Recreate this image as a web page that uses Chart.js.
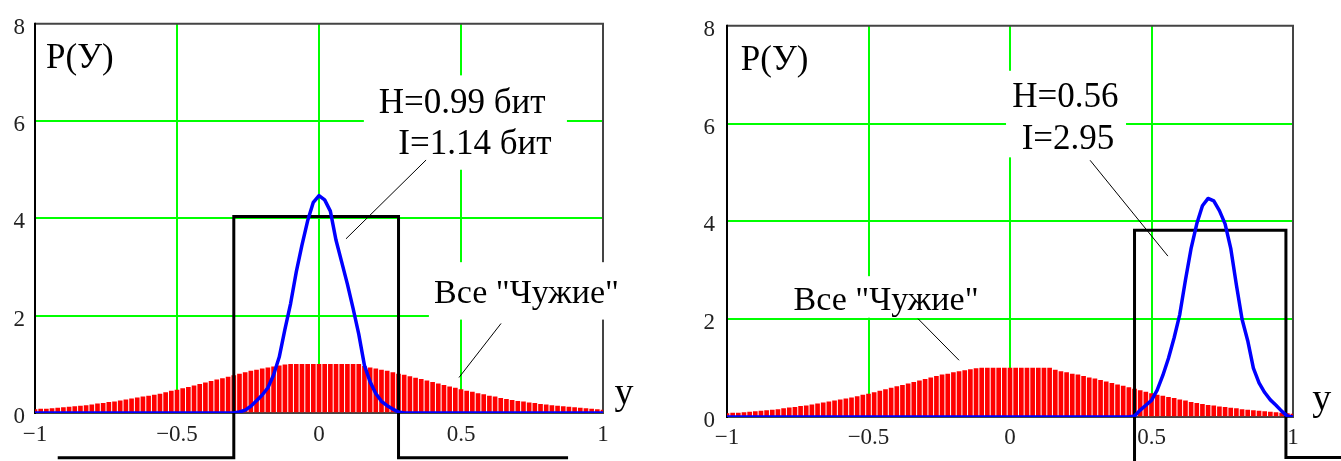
<!DOCTYPE html>
<html>
<head>
<meta charset="utf-8">
<script src="https://cdn.jsdelivr.net/npm/chart.js"></script>
<style>
  html, body { margin: 0; padding: 0; background: #fff; }
  body { width: 1341px; height: 461px; position: relative; overflow: hidden; }
  canvas { position: absolute; top: 0; }
  #left { left: 0; }
  #right { left: 670px; }
</style>
</head>
<body>
<canvas id="left" width="665" height="461"></canvas>
<canvas id="right" width="671" height="461"></canvas>
<script>
// axis ticks
const xTicks = [-1, -0.5, 0, 0.5, 1];
const yTicks = [0, 2, 4, 6, 8];

// "Все Чужие" density, one bar every 0.02 from -1 to 1
const alienStep = 0.02;
const alienY = [
  0.07, 0.08, 0.08, 0.09, 0.10, 0.11, 0.12, 0.13, 0.14, 0.15,
  0.17, 0.19, 0.20, 0.22, 0.23, 0.25, 0.27, 0.29, 0.31, 0.33,
  0.35, 0.37, 0.39, 0.42, 0.45, 0.47, 0.50, 0.53, 0.56, 0.59,
  0.62, 0.65, 0.68, 0.71, 0.74, 0.77, 0.80, 0.83, 0.86, 0.88,
  0.91, 0.93, 0.95, 0.97, 0.99, 1.00,
  1.00, 1.00, 1.00, 1.00, 1.00, 1.00, 1.00, 1.00, 1.00, 1.00, 1.00, 1.00,
  0.96, 0.93, 0.91, 0.88, 0.86, 0.83, 0.80, 0.78, 0.75, 0.72,
  0.69, 0.66, 0.63, 0.60, 0.57, 0.54, 0.51, 0.48, 0.45, 0.43,
  0.40, 0.38, 0.35, 0.33, 0.30, 0.28, 0.26, 0.24, 0.23, 0.21,
  0.20, 0.18, 0.17, 0.15, 0.14, 0.13, 0.12, 0.11, 0.10, 0.09,
  0.08, 0.07, 0.06
];
const alienX = alienY.map((_, i) => Math.round((-1 + i * alienStep) * 100) / 100);

// "свой" density, left panel (centred at 0)
const ownX1 = [-1, -0.30, -0.28, -0.26, -0.24, -0.22, -0.20, -0.18, -0.16, -0.14, -0.12,
  -0.10, -0.08, -0.06, -0.04, -0.02, 0.00, 0.02, 0.04, 0.06, 0.08, 0.10,
  0.12, 0.14, 0.16, 0.18, 0.20, 0.22, 0.24, 0.26, 0.28, 0.30, 1];
const ownY1 = [0, 0, 0.02, 0.06, 0.14, 0.25, 0.37, 0.52, 0.78, 1.15, 1.72,
  2.25, 2.90, 3.45, 3.95, 4.33, 4.47, 4.38, 4.15, 3.55, 3.10, 2.65,
  2.15, 1.62, 0.98, 0.64, 0.40, 0.24, 0.15, 0.08, 0.02, 0, 0];

// "свой" density, right panel (centred near 0.7)
const ownX2 = [-1, 0.42, 0.44, 0.46, 0.48, 0.50, 0.52, 0.54, 0.56, 0.58, 0.60,
  0.62, 0.64, 0.66, 0.68, 0.70, 0.72, 0.74, 0.76, 0.78, 0.80,
  0.82, 0.84, 0.86, 0.88, 0.90, 0.92, 0.94, 0.96, 0.98, 1];
const ownY2 = [0, 0, 0.02, 0.14, 0.24, 0.34, 0.55, 0.85, 1.20, 1.62, 2.10,
  2.80, 3.45, 3.95, 4.32, 4.47, 4.42, 4.22, 3.95, 3.45, 2.70,
  2.00, 1.56, 1.00, 0.70, 0.50, 0.35, 0.24, 0.12, 0.02, 0];

// decision windows (step functions)
const windowX1 = [-0.92, -0.30, -0.30, 0.28, 0.28, 0.877];
const windowY1 = [-0.92, -0.92, 4.04, 4.04, -0.92, -0.92];
const windowX2 = [0.44, 0.44, 0.975, 0.975, 1.17];
const windowY2 = [-1.0, 3.82, 3.82, -0.83, -0.83];

const pts = (xs, ys) => xs.map((x, i) => ({ x: x, y: ys[i] }));
const fmtTick = v => (v < 0 ? '\u2212' + (-v) : String(v));
const SERIF = '"Liberation Serif", "Times New Roman", serif';

const leftNotes = {
  boxes: [[0.158, 0.873, 6.94, 5.0], [0.387, 1.134, 3.10, 1.92]],
  texts: [
    ['P(У)', -0.961, 7.09, 'left', 35],
    ['H=0.99 бит', 0.504, 6.17, 'center', 35],
    ['I=1.14 бит', 0.549, 5.32, 'center', 35],
    ['Все "Чужие"', 0.405, 2.27, 'left', 34],
    ['у', 1.074, 0.18, 'center', 38]
  ],
  leaders: [[0.377, 5.20, 0.095, 3.58], [0.641, 1.84, 0.493, 0.73]]
};
const rightNotes = {
  boxes: [[-0.014, 0.41, 7.08, 5.31], [-0.809, -0.067, 2.88, 2.03]],
  texts: [
    ['P(У)', -0.951, 7.10, 'left', 35],
    ['H=0.56', 0.196, 6.33, 'center', 35],
    ['I=2.95', 0.205, 5.48, 'center', 35],
    ['Все "Чужие"', -0.438, 2.19, 'center', 34],
    ['у', 1.102, 0.14, 'center', 38]
  ],
  leaders: [[0.283, 5.25, 0.558, 3.29], [-0.325, 2.01, -0.18, 1.16]]
};

// plot frame: black left edge, dark grey elsewhere
const framePlugin = {
  id: 'frame',
  beforeDatasetsDraw(chart) {
    const { ctx, chartArea: a } = chart;
    ctx.save();
    ctx.lineWidth = 2;
    ctx.strokeStyle = '#444';
    ctx.beginPath();
    ctx.moveTo(a.left, a.top); ctx.lineTo(a.right, a.top);
    ctx.lineTo(a.right, a.bottom); ctx.lineTo(a.left, a.bottom);
    ctx.stroke();
    ctx.strokeStyle = '#000';
    ctx.beginPath();
    ctx.moveTo(a.left, a.top - 1); ctx.lineTo(a.left, a.bottom + 1);
    ctx.stroke();
    ctx.restore();
  }
};

function notesPlugin(notes) {
  return {
    id: 'notes',
    afterDatasetsDraw(chart) {
      const { ctx } = chart;
      const sx = chart.scales.x, sy = chart.scales.y;
      const px = v => sx.getPixelForValue(v), py = v => sy.getPixelForValue(v);
      ctx.save();
      ctx.fillStyle = '#fff';
      notes.boxes.forEach(([x0, x1, y0, y1]) => {
        ctx.fillRect(px(x0), py(y0), px(x1) - px(x0), py(y1) - py(y0));
      });
      ctx.strokeStyle = '#000';
      ctx.lineWidth = 1;
      notes.leaders.forEach(([x0, y0, x1, y1]) => {
        ctx.beginPath();
        ctx.moveTo(px(x0), py(y0));
        ctx.lineTo(px(x1), py(y1));
        ctx.stroke();
      });
      ctx.fillStyle = '#000';
      ctx.textBaseline = 'alphabetic';
      notes.texts.forEach(([t, x, y, align, size]) => {
        ctx.font = size + 'px ' + SERIF;
        ctx.textAlign = align;
        ctx.fillText(t, px(x), py(y));
      });
      ctx.restore();
    }
  };
}

function makeChart(id, cfg) {
  return new Chart(document.getElementById(id), {
    type: 'bar',
    data: {
      datasets: [
        {
          type: 'line', data: pts(cfg.windowX, cfg.windowY),
          borderColor: '#000', borderWidth: 3, pointRadius: 0,
          borderJoinStyle: 'miter', clip: false, order: 2
        },
        {
          type: 'line', data: pts(cfg.ownX, cfg.ownY),
          borderColor: '#0000ff', borderWidth: 3.5, pointRadius: 0,
          borderJoinStyle: 'round', order: 1
        },
        {
          type: 'bar', data: pts(alienX, alienY),
          backgroundColor: '#ff0000', borderWidth: 0, barThickness: 4, order: 3
        }
      ]
    },
    options: {
      responsive: false,
      animation: false,
      layout: { padding: { top: cfg.top, right: cfg.right, left: 0, bottom: 0 } },
      plugins: { legend: { display: false }, tooltip: { enabled: false } },
      scales: {
        x: {
          type: 'linear', min: -1, max: 1, offset: false,
          afterBuildTicks: s => { s.ticks = xTicks.map(v => ({ value: v })); },
          afterFit: s => { s.height = cfg.xAxisH; },
          grid: {
            offset: false, drawTicks: false, lineWidth: 2,
            color: c => (c.tick && c.tick.value > -1 && c.tick.value < 1 ? '#00ff00' : 'rgba(0,0,0,0)')
          },
          border: { display: false },
          ticks: {
            padding: cfg.xPad, color: '#222', maxRotation: 0, autoSkip: false,
            font: { family: SERIF, size: 23 }, callback: fmtTick
          }
        },
        y: {
          min: 0, max: 8,
          afterBuildTicks: s => { s.ticks = yTicks.map(v => ({ value: v })); },
          afterFit: s => { s.width = cfg.yAxisW; },
          grid: {
            drawTicks: false, lineWidth: 2,
            color: c => (c.tick && c.tick.value > 0 && c.tick.value < 8 ? '#00ff00' : 'rgba(0,0,0,0)')
          },
          border: { display: false },
          ticks: {
            padding: cfg.yPad, labelOffset: 4, color: '#222',
            font: { family: SERIF, size: 23 }
          }
        }
      }
    },
    plugins: [framePlugin, notesPlugin(cfg.notes)]
  });
}

makeChart('left', {
  windowX: windowX1, windowY: windowY1, ownX: ownX1, ownY: ownY1,
  top: 18, right: 62, xAxisH: 48, yAxisW: 35, xPad: 8, yPad: 10, notes: leftNotes
});
makeChart('right', {
  windowX: windowX2, windowY: windowY2, ownX: ownX2, ownY: ownY2,
  top: 22, right: 48, xAxisH: 44, yAxisW: 57, xPad: 7, yPad: 12, notes: rightNotes
});
</script>
</body>
</html>
